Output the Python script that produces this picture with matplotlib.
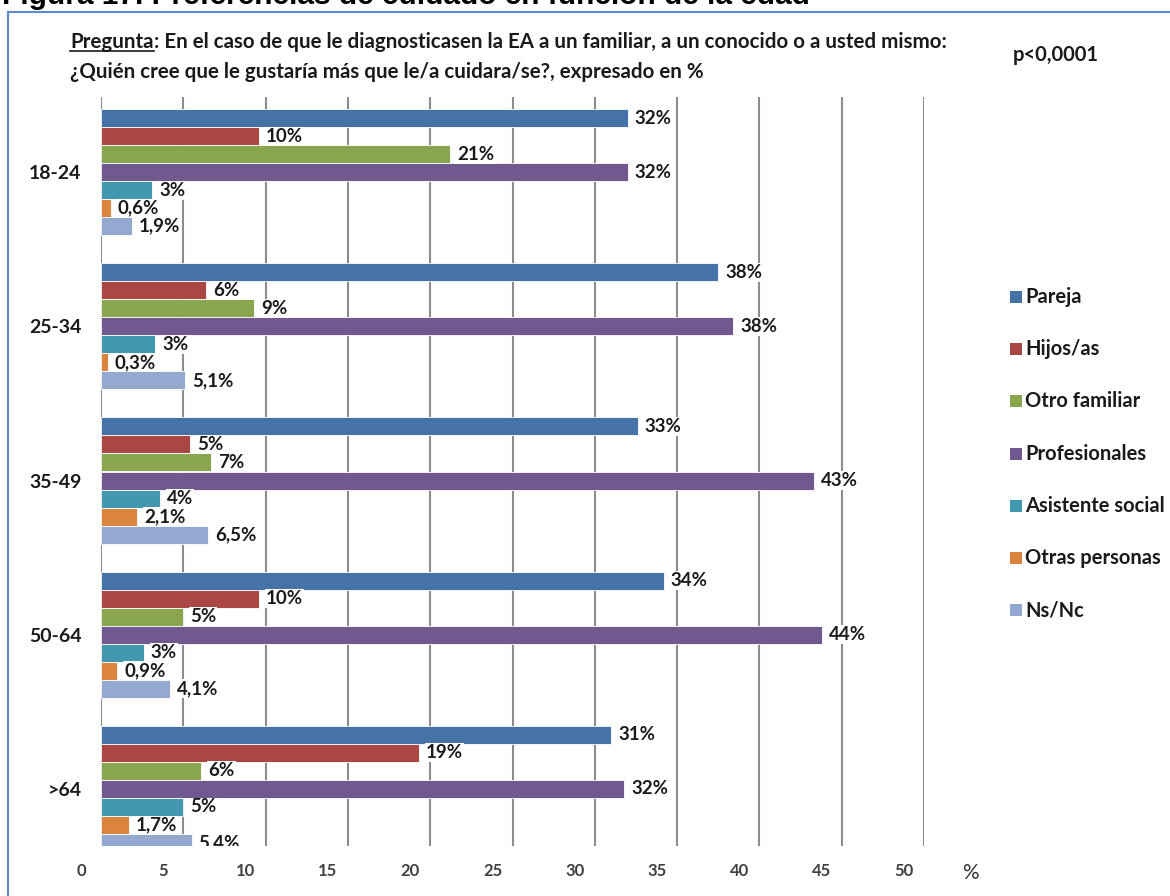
import numpy as np
import matplotlib.pyplot as plt
from matplotlib.patches import Rectangle
from matplotlib.lines import Line2D
from matplotlib.transforms import ScaledTranslation

plt.rcParams['font.family'] = ['Lato', 'DejaVu Sans']

grupos = ["18-24", "25-34", "35-49", "50-64", ">64"]
series = ["Pareja", "Hijos/as", "Otro familiar", "Profesionales",
          "Asistente social", "Otras personas", "Ns/Nc"]
colores = ['#4572A7', '#AA4643', '#89A54E', '#71588F', '#4198AF', '#DB843D', '#93A9CF']

pareja = [32.0, 37.5, 32.6, 34.2, 31.0]
hijos = [9.6, 6.4, 5.4, 9.6, 19.3]
otro = [21.2, 9.3, 6.7, 5.0, 6.1]
prof = [32.0, 38.4, 43.3, 43.8, 31.8]
asist = [3.1, 3.3, 3.6, 2.6, 5.0]
otras = [0.6, 0.4, 2.2, 1.0, 1.7]
nsnc = [1.9, 5.1, 6.5, 4.2, 5.5]
valores = [pareja, hijos, otro, prof, asist, otras, nsnc]

pareja_lbl = ["32%", "38%", "33%", "34%", "31%"]
hijos_lbl = ["10%", "6%", "5%", "10%", "19%"]
otro_lbl = ["21%", "9%", "7%", "5%", "6%"]
prof_lbl = ["32%", "38%", "43%", "44%", "32%"]
asist_lbl = ["3%", "3%", "4%", "3%", "5%"]
otras_lbl = ["0,6%", "0,3%", "2,1%", "0,9%", "1,7%"]
nsnc_lbl = ["1,9%", "5,1%", "6,5%", "4,1%", "5,4%"]
etiquetas = [pareja_lbl, hijos_lbl, otro_lbl, prof_lbl, asist_lbl, otras_lbl, nsnc_lbl]

W, H = 1170, 896
fig = plt.figure(figsize=(W/100, H/100), dpi=100)

# marco azul
fig.add_artist(Rectangle((8/W, -0.02), 1.1, 1 - 12/H + 0.02, transform=fig.transFigure,
                         fill=False, edgecolor='#5B8BC9', lw=1.5, zorder=0))

# titulo cortado arriba
fig.text(2/W, 1 - 4/H, "Figura 17. Preferencias de cuidado en función de la edad",
         fontsize=21.5, fontweight='bold', family='Liberation Sans', va='baseline', ha='left')

ax = fig.add_axes([101/W, 1 - 846/H, (924-101)/W, (846-97)/H])
h = 18/154
y = np.arange(len(grupos))
for j, (nom, vals, col) in enumerate(zip(series, valores, colores)):
    pos = y + (j - 3) * h
    ax.barh(pos, vals, height=h, color=col, edgecolor='white', linewidth=0.6, label=nom, zorder=2)
    for p, v, t in zip(pos, vals, etiquetas[j]):
        ax.annotate(t, (v, p), xytext=(5, 0), textcoords='offset points', ha='left', va='center',
                    fontsize=13.5, fontweight='bold', color='#1a1a1a', zorder=3, annotation_clip=True,
                    clip_on=True,
                    bbox=dict(boxstyle='square,pad=0.05', fc='white', ec='none'))

ax.set_xlim(0, 50)
ax.set_ylim(4 + 57/154, -75/154)
ax.set_xticks(range(0, 55, 5))
ax.grid(axis='x', color='#8c8c8c', lw=1.5, zorder=1)
for s in ax.spines.values():
    s.set_visible(False)
ax.tick_params(axis='x', length=0, pad=12, labelsize=12, labelcolor='#404040')
ax.tick_params(axis='y', length=0, pad=14, labelsize=14)
ax.set_yticks(y)
ax.set_yticklabels(grupos, fontweight='bold', color='#1a1a1a')
off = ScaledTranslation(-0.2, 0, fig.dpi_scale_trans)
for lb in ax.get_xticklabels():
    lb.set_fontweight('bold')
    lb.set_transform(lb.get_transform() + off)
fig.text(970/W, 1 - 873/H, "%", fontsize=15, color='#333333', ha='center', va='center')

# leyenda
for j, (nom, col) in enumerate(zip(series, colores)):
    yy = 1 - (297 + 52.2*j)/H
    fig.add_artist(Rectangle((1010/W, yy - 6/H), 12/W, 12/H, transform=fig.transFigure,
                             facecolor=col, edgecolor='none'))
    fig.text(1025/W, yy, nom, fontsize=14.5, fontweight='bold', color='#1a1a1a', va='center', ha='left')

# pregunta
fs = 14.8
t1 = fig.text(70/W, 1 - 42/H, "Pregunta", fontsize=fs, fontweight='bold', color='#1a1a1a', va='center')
fig.text(70/W, 1 - 72/H, "¿Quién cree que le gustaría más que le/a cuidara/se?, expresado en %",
         fontsize=fs, fontweight='bold', color='#1a1a1a', va='center')
fig.text(1013/W, 1 - 55/H, "p<0,0001", fontsize=14.5, fontweight='bold', color='#1a1a1a', va='center')
fig.canvas.draw()
bb = t1.get_window_extent(fig.canvas.get_renderer())
fig.text(bb.x1/W, 1 - 42/H, ": En el caso de que le diagnosticasen la EA a un familiar, a un conocido o a usted mismo:",
         fontsize=fs, fontweight='bold', color='#1a1a1a', va='center')
fig.add_artist(Line2D([bb.x0/W, bb.x1/W], [(bb.y0 + 1)/H, (bb.y0 + 1)/H],
                      transform=fig.transFigure, color='#1a1a1a', lw=1.2))

fig.savefig('out.png', dpi=100)
